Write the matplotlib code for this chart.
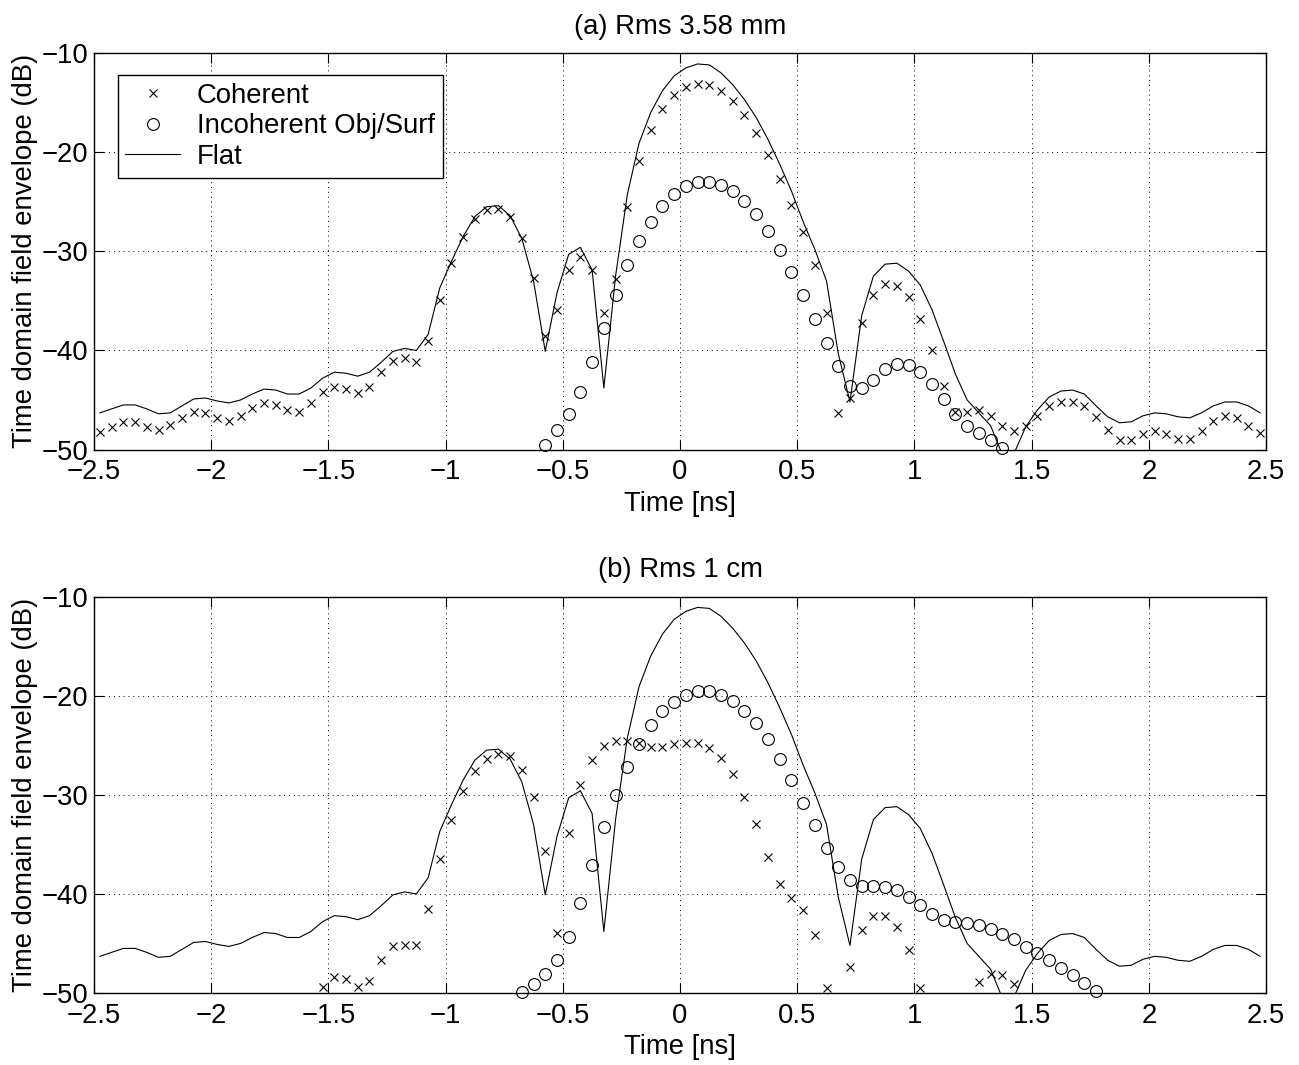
import numpy as np
import matplotlib
matplotlib.use('Agg')
import matplotlib.pyplot as plt

#%% Data (time step 0.05 ns, first sample at -2.475 ns)

nan = np.nan
t = np.arange(100) * 0.05 - 2.475

flat = [-46.3, -45.9, -45.5, -45.5, -45.9, -46.4, -46.3, -45.6, -44.9, -44.8,
        -45.1, -45.3, -45.0, -44.4, -43.9, -44.0, -44.4, -44.4, -43.8, -42.8,
        -42.2, -42.3, -42.6, -42.2, -41.2, -40.1, -39.8, -40.0, -38.4, -33.7,
        -31.0, -28.5, -26.5, -25.5, -25.4, -26.4, -28.7, -33.0, -40.1, -34.2,
        -30.3, -29.6, -31.9, -43.8, -32.5, -24.3, -19.1, -16.0, -13.8, -12.3,
        -11.5, -11.1, -11.2, -12.0, -13.2, -14.7, -16.5, -18.7, -21.2, -23.9,
        -27.0, -29.8, -33.0, -40.3, -45.2, -36.5, -32.5,
        -31.3, -31.2, -32.0, -33.4, -35.9, -39.1, -42.4, -45.0, -46.3, -47.6,
        -50.5, -50.4, -47.7, -46.0, -44.7, -44.1, -44.0, -44.4, -45.6, -46.7,
        -47.3, -47.2, -46.6, -46.3, -46.4, -46.7, -46.8, -46.3, -45.6, -45.2,
        -45.2, -45.6, -46.3]

coh_a = [-48.2, -47.7, -47.2, -47.2, -47.7, -48.0, -47.5, -46.8, -46.2, -46.3,
         -46.8, -47.1, -46.6, -45.8, -45.3, -45.5, -46.0, -46.2, -45.3, -44.2,
         -43.7, -43.9, -44.3, -43.7, -42.2, -41.1, -40.8, -41.2, -39.1, -34.9,
         -31.2, -28.6, -26.7, -25.8, -25.7, -26.5, -28.7, -32.7, -38.5, -35.9,
         -31.9, -30.6, -31.9, -36.2, -32.8, -25.5, -20.9, -17.8, -15.6, -14.2,
         -13.4, -13.1, -13.2, -13.8, -14.8, -16.3, -18.1, -20.3, -22.7, -25.3,
         -28.1, -31.4, -36.2, -46.3, -44.8, -37.2, -34.4,
         -33.3, -33.5, -34.6, -36.8, -40.0, -43.6, -46.2, -46.2, -46.0, -46.6,
         -47.6, -48.1, -47.6, -46.6, -45.6, -45.2, -45.2, -45.6, -46.7, -48.0,
         -49.0, -49.0, -48.4, -48.1, -48.4, -48.9, -48.9, -48.1, -47.1, -46.6,
         -46.8, -47.6, -48.3]

incoh_a = [nan] * 38 + [
    -49.5, -48.0, -46.4, -44.2, -41.2, -37.7, -34.4, -31.4, -29.0, -27.0,
    -25.4, -24.2, -23.4, -23.0, -23.0, -23.3, -23.9, -24.9, -26.2, -28.0,
    -29.9, -32.1, -34.4, -36.8, -39.3, -41.6, -43.6, -43.8, -43.0, -41.9,
    -41.4, -41.5, -42.2, -43.4, -44.9, -46.4, -47.6, -48.3, -49.0, -49.8] + [nan] * 22

coh_b = [nan] * 19 + [
    -49.4, -48.4, -48.6, -49.4, -48.8, -46.7, -45.3, -45.2, -45.2, -41.5,
    -36.5, -32.5, -29.6, -27.6, -26.4, -25.9, -26.1, -27.5, -30.2, -35.7,
    -43.9, -33.9, -29.0, -26.5, -25.1, -24.6, -24.6, -24.8, -25.2, -25.2,
    -24.9, -24.8, -24.8, -25.3, -26.3, -27.9, -30.2, -33.0, -36.3, -39.0,
    -40.4, -41.6, -44.1, -49.5, nan, -47.4, -43.6, -42.2, -42.2, -43.3,
    -45.7, -49.5, nan, nan, nan, nan, -48.9, -48.1, -48.2, -49.1] + [nan] * 21

incoh_b = [nan] * 36 + [
    -49.9, -49.1, -48.1, -46.7, -44.4, -40.9, -37.1, -33.3, -30.0, -27.2,
    -24.9, -23.0, -21.6, -20.6, -19.9, -19.5, -19.5, -19.9, -20.5, -21.5,
    -22.8, -24.4, -26.4, -28.5, -30.8, -33.1, -35.4, -37.3, -38.6, -39.2,
    -39.2, -39.3, -39.6, -40.3, -41.1, -42.0, -42.6, -42.8, -42.9, -43.1,
    -43.5, -44.0, -44.6, -45.4, -46.0, -46.7, -47.5, -48.2, -49.0, -49.8] + [nan] * 14

titles = ['(a) Rms 3.58 mm', '(b) Rms 1 cm']
xticks = np.arange(-2.5, 2.51, 0.5)
xticklabels = ['\u22122.5', '\u22122', '\u22121.5', '\u22121', '\u22120.5',
               '0', '0.5', '1', '1.5', '2', '2.5']
yticks = [-50, -40, -30, -20, -10]
yticklabels = ['\u221250', '\u221240', '\u221230', '\u221220', '\u221210']

#%% Plot

plt.rcParams['font.family'] = ['Liberation Sans', 'DejaVu Sans']
fs = 19.8
plt.rcParams['font.size'] = fs

fig = plt.figure(figsize=(12.99, 10.65), dpi=100)
ax_a = fig.add_axes([0.0724, 0.5779, 0.9022, 0.3723])
ax_b = fig.add_axes([0.0724, 0.0676, 0.9022, 0.3723])

for ax, coh, incoh, title in zip([ax_a, ax_b], [coh_a, coh_b], [incoh_a, incoh_b], titles):
    ax.plot(t, coh, 'x', color='k', markersize=6, markeredgewidth=0.8,
            clip_on=False, label='Coherent')
    ax.plot(t, incoh, 'o', color='k', markerfacecolor='none', markersize=8.5,
            markeredgewidth=0.8, clip_on=False, label='Incoherent Obj/Surf')
    ax.plot(t, flat, '-', color='k', linewidth=0.8, label='Flat')

    ax.set_xlim(-2.5, 2.5)
    ax.set_ylim(-50, -10)
    ax.set_xticks(xticks)
    ax.set_xticklabels(xticklabels)
    ax.set_yticks(yticks)
    ax.set_yticklabels(yticklabels)
    ax.tick_params(direction='in', length=7.5, width=0.8, top=True, right=True)
    ax.tick_params(axis='x', pad=7)
    ax.tick_params(axis='y', pad=4)
    ax.grid(True, color='k', linestyle=(0, (1, 4)), linewidth=0.7)
    for sp in ax.spines.values():
        sp.set_linewidth(1.0)
    ax.set_xlabel('Time [ns]', labelpad=4)
    ax.set_ylabel('Time domain field envelope (dB)', labelpad=3)
    ax.set_title(title, fontsize=fs, pad=14)

leg = ax_a.legend(loc='upper left', bbox_to_anchor=(0.0202, 0.9445),
                  frameon=True, fancybox=False, edgecolor='k', framealpha=1,
                  handlelength=2.0, borderpad=0.28, labelspacing=0.17,
                  handletextpad=0.6, borderaxespad=0)
leg.get_frame().set_linewidth(1.0)

fig.savefig('out.png', dpi=100)
